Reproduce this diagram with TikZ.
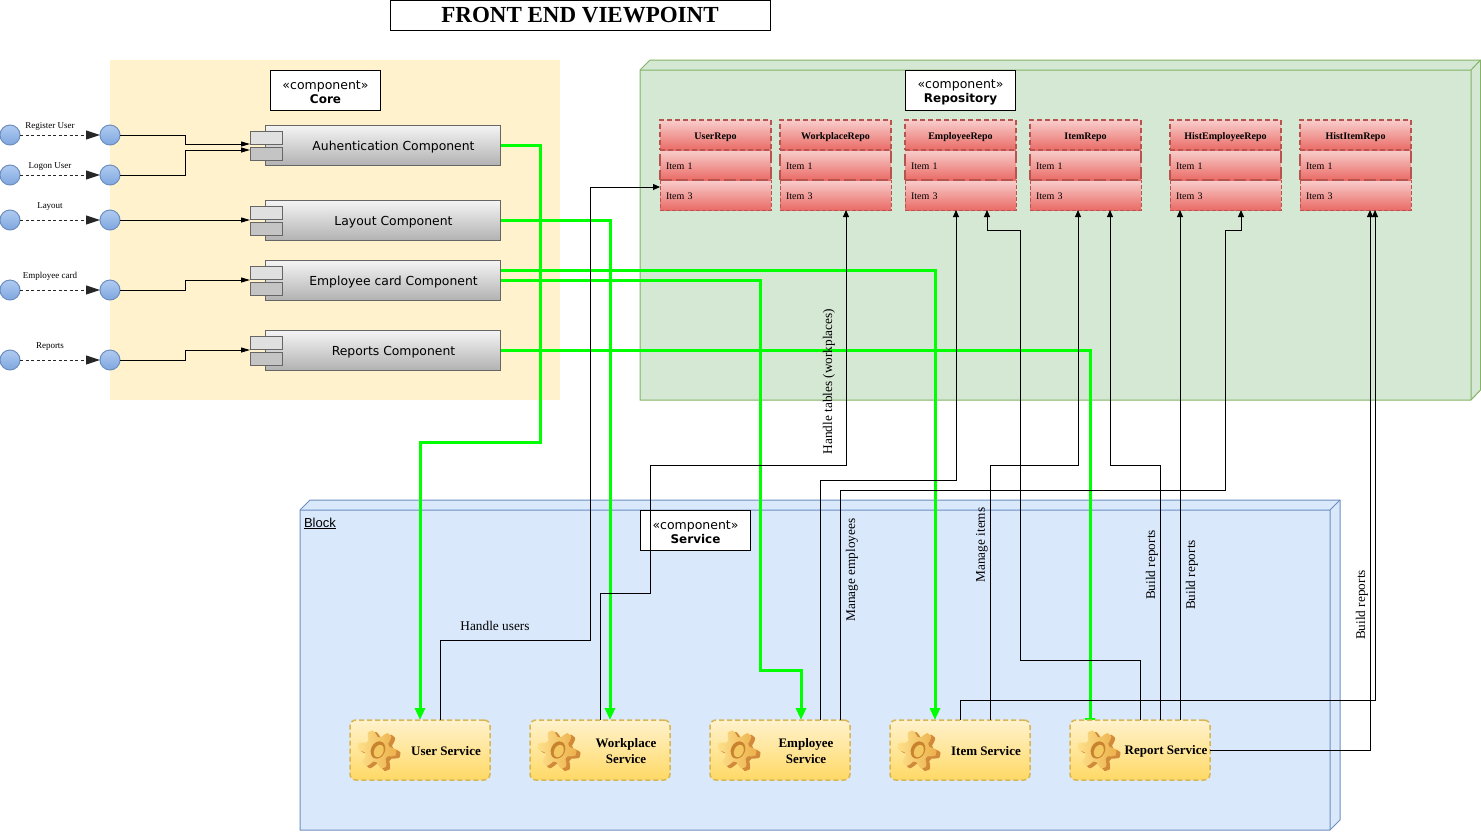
\documentclass[tikz,border=0pt]{standalone}
\usepackage{fontspec}
\setmainfont{Liberation Serif}
\newfontfamily\vfont{DejaVu Sans}
\newfontfamily\afont{Liberation Sans}
\usetikzlibrary{arrows.meta,positioning,backgrounds}
\pgfdeclarelayer{panels}
\pgfdeclarelayer{under}
\pgfsetlayers{panels,under,main}
\definecolor{coreFill}{HTML}{FFF2CC}
\definecolor{greenFill}{HTML}{D5E8D4}
\definecolor{greenLine}{HTML}{82B366}
\definecolor{blueFill}{HTML}{DAE8FC}
\definecolor{blueLine}{HTML}{6C8EBF}
\definecolor{redLine}{HTML}{B85450}
\definecolor{redTop}{HTML}{F8CECC}
\definecolor{redBot}{HTML}{EA6B66}
\definecolor{yellowLine}{HTML}{D6B656}
\definecolor{yellowBot}{HTML}{FFD966}
\definecolor{flowGreen}{HTML}{00FF00}
\definecolor{dotTop}{HTML}{B0CBF0}
\definecolor{dotBot}{HTML}{7EA6E0}
\definecolor{gearDark}{HTML}{D08A3A}
\definecolor{gearLight}{HTML}{FDE08B}
\definecolor{gearMid}{HTML}{ECB04B}
\definecolor{gearHole}{HTML}{C9832F}
\definecolor{gearInner}{HTML}{F4C860}
\tikzset{
  every node/.style={inner sep=0pt,outer sep=0pt},
  conn/.style={draw=black,line width=1pt,-{Triangle[length=7pt,width=6pt]}},
  inconn/.style={draw=black,line width=1pt,-{Triangle[length=9pt,width=5pt]}},
  dashconn/.style={draw=black!85,line width=1pt,dash pattern=on 3pt off 2.5pt,-{Triangle[length=14pt,width=9pt]}},
  flow/.style={draw=flowGreen,line width=3pt,-{Triangle[length=12pt,width=10pt]}},
  dot/.style={circle,minimum size=20pt,draw=blueLine,line width=1pt,top color=dotTop,bottom color=dotBot},
  stereo/.style={draw=black,fill=white,line width=1pt,minimum width=110pt,minimum height=40pt},
  stereotext/.style={align=center,yshift=-2pt,xshift=.5pt,font=\vfont\fontsize{12.5}{14}\selectfont},
  comp/.style={draw=black!60,line width=1pt,top color=white!96!black,bottom color=black!30,minimum width=235pt,minimum height=40pt},
  complabel/.style={font=\vfont\fontsize{12.4}{15}\selectfont,xshift=11pt,yshift=-2.5pt},
  modA/.style={draw=black!60,line width=1pt,fill=black!12,minimum width=32pt,minimum height=13pt},
  modB/.style={draw=black!60,line width=1pt,fill=black!23,minimum width=32pt,minimum height=13pt},
  repohead/.style={draw=redLine,dash pattern=on 5pt off 3pt,line width=1.5pt,top color=redTop,bottom color=redBot,minimum width=111pt,minimum height=30pt,text height=10pt,text depth=2pt,font=\bfseries\fontsize{10}{12}\selectfont},
  repoitem/.style={draw=redLine,dash pattern=on 12pt off 4pt,line width=2.5pt,top color=redTop,bottom color=redBot,minimum width=111pt,minimum height=30pt,text width=99pt,align=left,text height=11pt,text depth=2pt,font=\fontsize{10}{12}\selectfont},
  repolast/.style={repoitem,dash pattern=on 4pt off 2pt,line width=1pt},
  svc/.style={draw=yellowLine,dash pattern=on 5pt off 3pt,line width=1.5pt,rounded corners=6pt,top color=coreFill,bottom color=yellowBot,minimum width=140pt,minimum height=60pt},
  svclabel/.style={font=\bfseries\fontsize{13}{16}\selectfont,align=center,xshift=26pt,yshift=-1pt},
  smalltext/.style={font=\fontsize{9}{11}\selectfont},
  edgetext/.style={font=\fontsize{13.3}{15}\selectfont},
  gearicon/.pic={
    \begin{scope}[shift={(2.5,1.5)}]
      \fill[gearDark] plot[domain=0:360,samples=181] (\x:{16.5+3.5*max(-1,min(1,1.4*cos(6*\x-60)))}) -- cycle;
    \end{scope}
    \begin{scope}[shift={(-1,-.5)}]
      \shade[left color=gearLight,right color=gearMid] plot[domain=0:360,samples=181] (\x:{16+3.5*max(-1,min(1,1.4*cos(6*\x-60)))}) -- cycle;
    \end{scope}
    \fill[gearHole,rotate=-25] (0,0) ellipse [x radius=7,y radius=9];
    \fill[gearInner,rotate=-25] (1.2,.6) ellipse [x radius=4.6,y radius=6.5];
  }
}
\begin{document}
\begin{tikzpicture}[x=1pt,y=-1pt]
\useasboundingbox (0,0) rectangle (1481,831);
\begin{pgfonlayer}{panels}
  \fill[coreFill] (110,60) rectangle (560,400);
  \filldraw[fill=greenFill,draw=greenLine,line width=1pt,line join=bevel] (640,70) -- (650,60) -- (1480.5,60) -- (1480.5,390) -- (1471,400) -- (640,400) -- cycle;
  \draw[greenLine,line width=1pt] (640,70) -- (1471,70) -- (1471,400) (1471,70) -- (1480.5,60);
  \filldraw[fill=blueFill,draw=blueLine,line width=1pt,line join=bevel] (300,510) -- (310,500) -- (1340,500) -- (1340,820) -- (1330,830) -- (300,830) -- cycle;
  \draw[blueLine,line width=1pt] (300,510) -- (1330,510) -- (1330,830) (1330,510) -- (1340,500);
\end{pgfonlayer}

\node[draw=black,fill=white,line width=1pt,minimum width=380pt,minimum height=30pt,font=\bfseries\fontsize{23}{25}\selectfont] (title) at (580,15) {FRONT END VIEWPOINT};
\node[stereo,label={[stereotext]center:«component»\\{\fontsize{12}{14}\selectfont\bfseries Core}}] (stCore) at (325,90) {};
\node[stereo,label={[stereotext]center:«component»\\{\fontsize{12}{14}\selectfont\bfseries Repository}}] (stRepo) at (960,90) {};
\node[stereo,label={[stereotext]center:«component»\\{\fontsize{12}{14}\selectfont\bfseries Service}}] (stSvc) at (695,530) {};
\node[anchor=west,font=\afont\fontsize{13}{15}\selectfont] (blockLabel) at (304,523.5) {\underline{Block}};

% actors
\foreach \n/\y in {a/135,b/175,c/220,d/290,e/360}{
  \node[dot] (\n L) at (10,\y) {};
  \node[dot] (\n R) at (110,\y) {};
}
\draw[dashconn] (aL) -- (aR) node[smalltext,pos=.5,yshift=8.5pt,xshift=-10pt] (tA) {Register User};
\draw[dashconn] (bL) -- (bR) node[smalltext,pos=.5,yshift=8.5pt,xshift=-10pt] (tB) {Logon User};
\draw[dashconn] (cL) -- (cR) node[smalltext,pos=.5,yshift=13.5pt,xshift=-10pt] (tC) {Layout};
\draw[dashconn] (dL) -- (dR) node[smalltext,pos=.5,yshift=13.5pt,xshift=-10pt] (tD) {Employee card};
\draw[dashconn] (eL) -- (eR) node[smalltext,pos=.5,yshift=13.5pt,xshift=-10pt] (tE) {Reports};

% components
\foreach \n/\y/\t in {auth/145/Auhentication Component,layout/220/Layout Component,ecard/280/Employee card Component,reports/350/Reports Component}{
  \node[comp,label={[complabel]center:\t}] (\n) at (382.5,\y) {};
  \node[modA] (\n A) at (266,\y-7.5) {};
  \node[modB] (\n B) at (266,\y+8.5) {};
}
\draw[inconn] (aR) -- ++(75,0) |- (authA.south west);
\draw[inconn] (bR) -- ++(75,0) |- ([yshift=-3pt]authB.north west);
\draw[inconn] (cR) -- (cR -| layoutA.west);
\draw[inconn] (dR) -- ++(75,0) |- (ecard.center -| ecardA.west);
\draw[inconn] (eR) -- ++(75,0) |- (reports.center -| reportsA.west);

% repositories
\foreach \n/\x/\t in {ur/715.5/UserRepo,wr/835.5/WorkplaceRepo,er/960.5/EmployeeRepo,ir/1085.5/ItemRepo,he/1225.5/HistEmployeeRepo,hi/1355.5/HistItemRepo}{
  \node[repolast] (\n 3) at (\x,195) {Item 3};
  \node[repoitem] (\n 1) at (\x,165) {Item 1};
  \node[repohead] (\n H) at (\x,135) {\t};
}

% services
\node[svc,label={[svclabel]center:User Service}] (us) at (420,750) {};
\node[svc,label={[svclabel]center:Workplace\\Service}] (ws) at (600,750) {};
\node[svc,label={[svclabel]center:Employee\\Service}] (es) at (780,750) {};
\node[svc,label={[svclabel]center:Item Service}] (is) at (960,750) {};
\node[svc,label={[svclabel]center:Report Service}] (rs) at (1140,750) {};
\foreach \n in {us,ws,es,is,rs}{
  \pic at ([xshift=-42pt]\n.center) {gearicon};
}

% black connectors
\draw[conn] ([xshift=20pt]us.north) |- (590,640) |- ([yshift=8pt]ur3.west);
\draw[conn] (ws.north) |- (650,593) |- (846,465) -- ([xshift=10.5pt]wr3.south);
\draw[conn] ([xshift=40pt]es.north) |- (956,480) -- ([xshift=-4.5pt]er3.south);
\draw[conn] ([xshift=60pt]es.north) |- (1225,490) |- (1241,230) -- ([xshift=15.5pt]he3.south);
\draw[conn] ([xshift=30pt]is.north) |- (1078,465) -- ([xshift=-7.5pt]ir3.south);
\draw[conn] (is.north) |- (1375,700) -- ([xshift=19.5pt]hi3.south);
\draw[conn] (rs.north) |- (1020,660) |- (987,230) -- ([xshift=26.5pt]er3.south);
\draw[conn] ([xshift=20pt]rs.north) |- (1110,465) -- ([xshift=24.5pt]ir3.south);
\draw[conn] ([xshift=40pt]rs.north) -- ([xshift=-45.5pt]he3.south);
\draw[conn] (rs.east) -| ([xshift=14.5pt]hi3.south);

% edge labels
\node[edgetext] (lHandleUsers) at (495,625.5) {Handle users};
\node[edgetext,rotate=90] (lHandleTables) at (829,381.5) {Handle tables (workplaces)};
\node[edgetext,rotate=90] (lManageEmp) at (852,570) {Manage employees};
\node[edgetext,rotate=90] (lManageItems) at (982,545) {Manage items};
\node[edgetext,rotate=90] (lBuild1) at (1152,565) {Build reports};
\node[edgetext,rotate=90] (lBuild2) at (1192,575) {Build reports};
\node[edgetext,rotate=90] (lBuild3) at (1362,605) {Build reports};

% green flows
\begin{pgfonlayer}{under}
  \draw[flow] (auth.east) -| (540,442) -| (us.north);
  \draw[flow] (layout.east) -| ([xshift=10pt]ws.north);
  \draw[flow] ([yshift=10pt]ecard.east) -| ([xshift=-25pt]is.north);
  \draw[flow] (ecard.east) -| (760,670) -| ([xshift=21pt]es.north);
  \draw[flow] (reports.east) -| ([xshift=-50pt,yshift=-10pt]rs.north);
\end{pgfonlayer}
\end{tikzpicture}
\end{document}
